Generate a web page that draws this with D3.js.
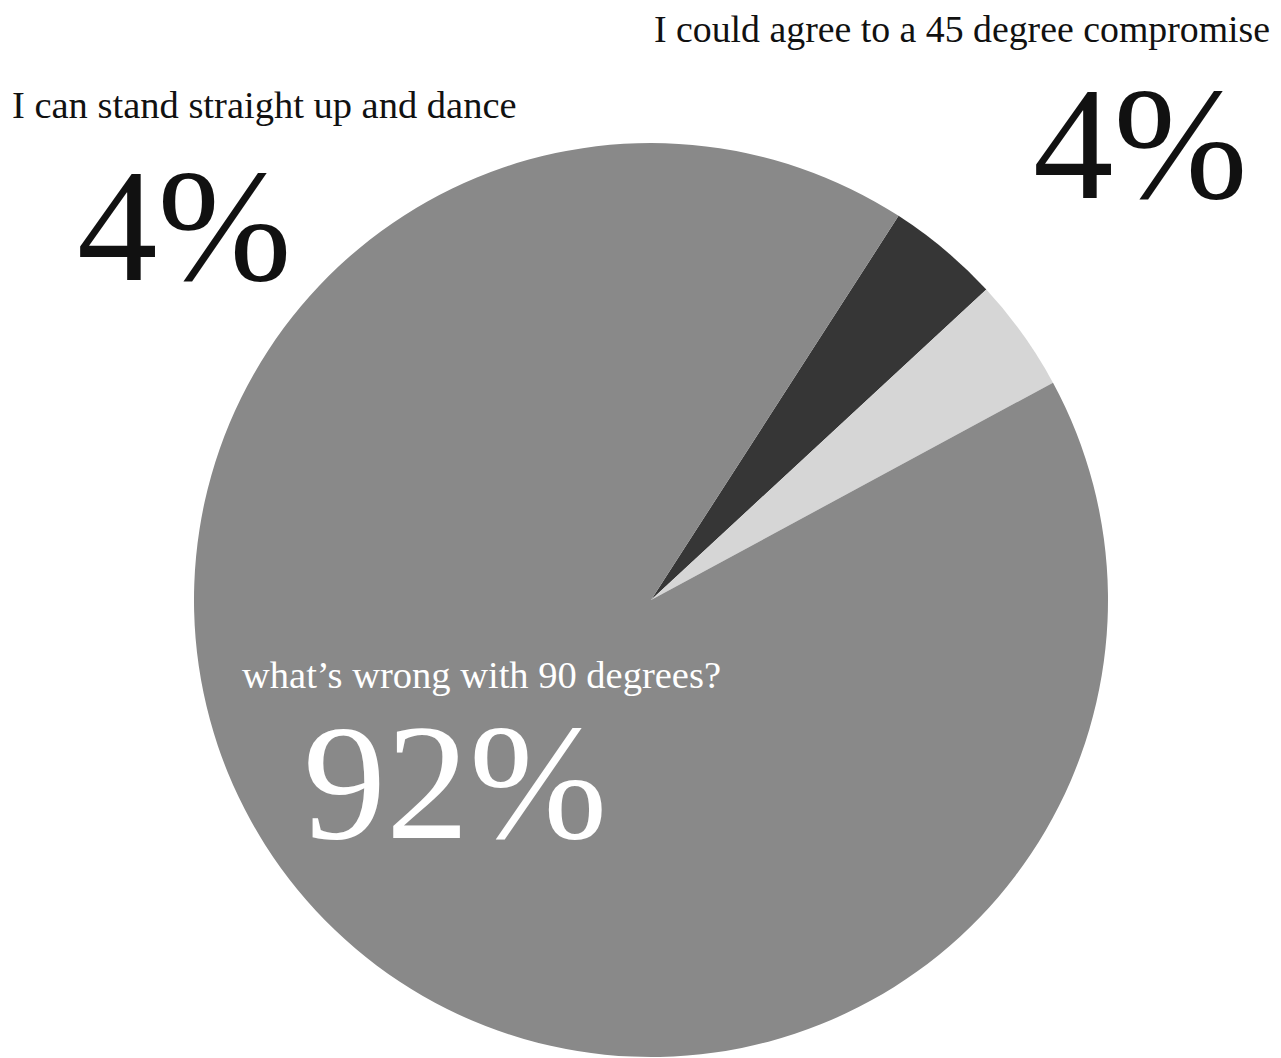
<!DOCTYPE html>
<html>
<head>
<meta charset="utf-8">
<script src="https://cdn.jsdelivr.net/npm/d3@7"></script>
<style>
  html, body { margin: 0; padding: 0; background: #fff; }
  svg { display: block; }
</style>
</head>
<body>
<div id="chart"></div>
<script>
// answers and their shares (percent)
const answers = [
  "I can stand straight up and dance",
  "I could agree to a 45 degree compromise",
  "what\u2019s wrong with 90 degrees?",
];
const shares = [4, 4, 92];
const sliceColors = ["#363636", "#d6d6d6", "#898989"];

const W = 1281, H = 1058;
const cx = 651, cy = 600, radius = 457;
const startDeg = 32.8;

const svg = d3
  .select("#chart")
  .append("svg")
  .attr("width", W)
  .attr("height", H);

const data = answers.map((a, i) => ({ answer: a, value: shares[i], color: sliceColors[i] }));

const pie = d3
  .pie()
  .sort(null)
  .value((d) => d.value)
  .startAngle((startDeg * Math.PI) / 180)
  .endAngle((startDeg * Math.PI) / 180 + 2 * Math.PI);

const arc = d3.arc().innerRadius(0).outerRadius(radius);

const g = svg.append("g").attr("transform", `translate(${cx},${cy})`);

g.selectAll("path.slice")
  .data(pie(data))
  .join("path")
  .attr("class", "slice")
  .attr("d", arc)
  .attr("fill", (d) => d.data.color);

// labels: question text + big percentage
const font = "'Liberation Serif', 'DejaVu Serif', serif";
const labelPos = [
  { x: 12, y: 118, px: 77, py: 280, color: "#111", size: 38.5, big: 161 },
  { x: 654, y: 42, px: 1033, py: 198, color: "#111", size: 37.8, big: 161 },
  { x: 242, y: 688, px: 303, py: 838, color: "#fff", size: 38.5, big: 166 },
];

data.forEach((d, i) => {
  const p = labelPos[i];
  svg
    .append("text")
    .attr("x", p.x)
    .attr("y", p.y)
    .style("font-family", font)
    .style("font-size", p.size + "px")
    .attr("fill", p.color)
    .text(d.answer);
  svg
    .append("text")
    .attr("x", p.px)
    .attr("y", p.py)
    .style("font-family", font)
    .style("font-size", p.big + "px")
    .attr("fill", p.color)
    .text(d.value + "%");
});
</script>
</body>
</html>
